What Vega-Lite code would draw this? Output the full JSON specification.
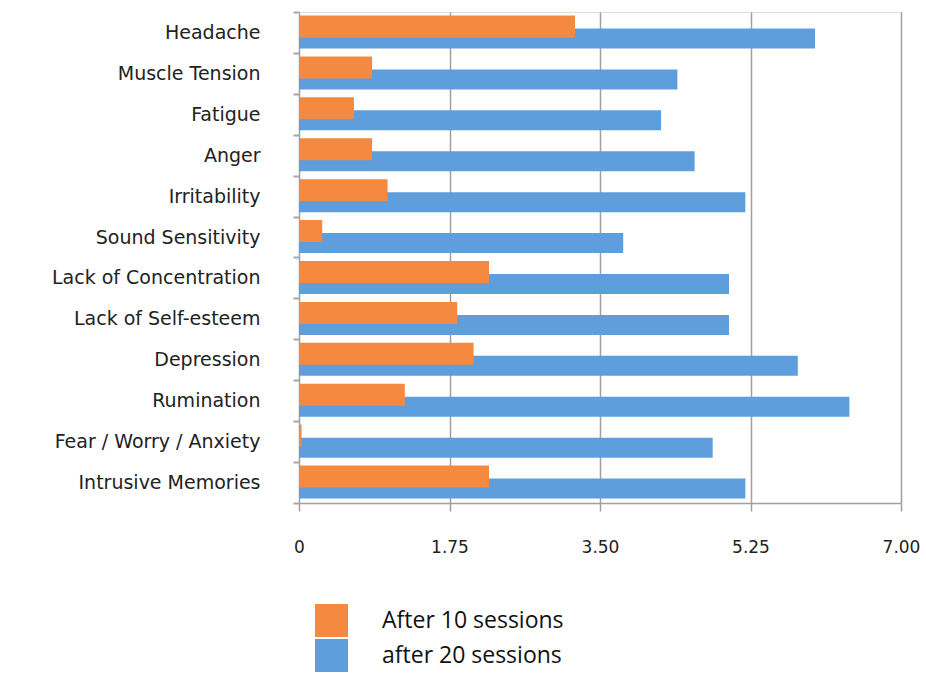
{
  "$schema": "https://vega.github.io/schema/vega-lite/v6.json",
  "autosize": {"type": "none"},
  "padding": {"left": 299, "top": 12, "right": 25, "bottom": 170},
  "width": 602,
  "height": 491,
  "background": "white",
  "data": {
    "values": [
      {"symptom": "Headache", "session": "After 10 sessions", "value": 3.21},
      {"symptom": "Headache", "session": "after 20 sessions", "value": 6.0},
      {"symptom": "Muscle Tension", "session": "After 10 sessions", "value": 0.85},
      {"symptom": "Muscle Tension", "session": "after 20 sessions", "value": 4.4},
      {"symptom": "Fatigue", "session": "After 10 sessions", "value": 0.64},
      {"symptom": "Fatigue", "session": "after 20 sessions", "value": 4.21},
      {"symptom": "Anger", "session": "After 10 sessions", "value": 0.85},
      {"symptom": "Anger", "session": "after 20 sessions", "value": 4.6},
      {"symptom": "Irritability", "session": "After 10 sessions", "value": 1.03},
      {"symptom": "Irritability", "session": "after 20 sessions", "value": 5.19},
      {"symptom": "Sound Sensitivity", "session": "After 10 sessions", "value": 0.27},
      {"symptom": "Sound Sensitivity", "session": "after 20 sessions", "value": 3.77},
      {"symptom": "Lack of Concentration", "session": "After 10 sessions", "value": 2.21},
      {"symptom": "Lack of Concentration", "session": "after 20 sessions", "value": 5.0},
      {"symptom": "Lack of Self-esteem", "session": "After 10 sessions", "value": 1.84},
      {"symptom": "Lack of Self-esteem", "session": "after 20 sessions", "value": 5.0},
      {"symptom": "Depression", "session": "After 10 sessions", "value": 2.03},
      {"symptom": "Depression", "session": "after 20 sessions", "value": 5.8},
      {"symptom": "Rumination", "session": "After 10 sessions", "value": 1.23},
      {"symptom": "Rumination", "session": "after 20 sessions", "value": 6.4},
      {"symptom": "Fear / Worry / Anxiety", "session": "After 10 sessions", "value": 0.03},
      {"symptom": "Fear / Worry / Anxiety", "session": "after 20 sessions", "value": 4.81},
      {"symptom": "Intrusive Memories", "session": "After 10 sessions", "value": 2.21},
      {"symptom": "Intrusive Memories", "session": "after 20 sessions", "value": 5.19}
    ]
  },
  "encoding": {
    "y": {
      "field": "symptom",
      "type": "nominal",
      "sort": null,
      "scale": {"paddingInner": 0, "paddingOuter": 0},
      "axis": {
        "title": null,
        "domain": false,
        "ticks": true,
        "tickBand": "extent",
        "tickColor": "#A6A6A6",
        "tickSize": 6,
        "tickWidth": 2,
        "labelFont": "DejaVu Sans",
        "labelFontSize": 19,
        "labelColor": "#222222",
        "labelPadding": 33,
        "labelLimit": 300
      }
    },
    "x": {
      "field": "value",
      "type": "quantitative",
      "scale": {"domain": [0, 7]},
      "axis": {
        "title": null,
        "values": [0, 1.75, 3.5, 5.25, 7],
        "labelExpr": "datum.value == 0 ? '0' : format(datum.value, '.2f')",
        "grid": true,
        "gridColor": "#A0A0A0",
        "gridWidth": 1.5,
        "domainColor": "#A0A0A0",
        "domainWidth": 1.5,
        "tickColor": "#A0A0A0",
        "tickWidth": 1.5,
        "tickSize": 8,
        "labelFont": "DejaVu Sans",
        "labelFontSize": 17,
        "labelColor": "#222222",
        "labelPadding": 28,
        "labelFlush": false
      }
    },
    "color": {
      "field": "session",
      "type": "nominal",
      "scale": {"domain": ["After 10 sessions", "after 20 sessions"], "range": ["#F5893F", "#5E9EDC"]},
      "legend": {
        "title": null,
        "orient": "none",
        "legendX": 16,
        "legendY": 592,
        "symbolType": "square",
        "symbolSize": 1089,
        "symbolStrokeWidth": 0,
        "symbolOpacity": 1,
        "rowPadding": 2,
        "labelOffset": 34,
        "labelLimit": 400,
        "labelFont": "Open Sans",
        "labelFontSize": 23,
        "labelColor": "#111111"
      }
    }
  },
  "layer": [
    {
      "transform": [{"filter": "datum.session == 'after 20 sessions'"}],
      "mark": {"type": "bar", "height": 20, "yOffset": 6}
    },
    {
      "transform": [{"filter": "datum.session == 'After 10 sessions'"}],
      "mark": {"type": "bar", "height": 22, "yOffset": -6}
    }
  ]
}
